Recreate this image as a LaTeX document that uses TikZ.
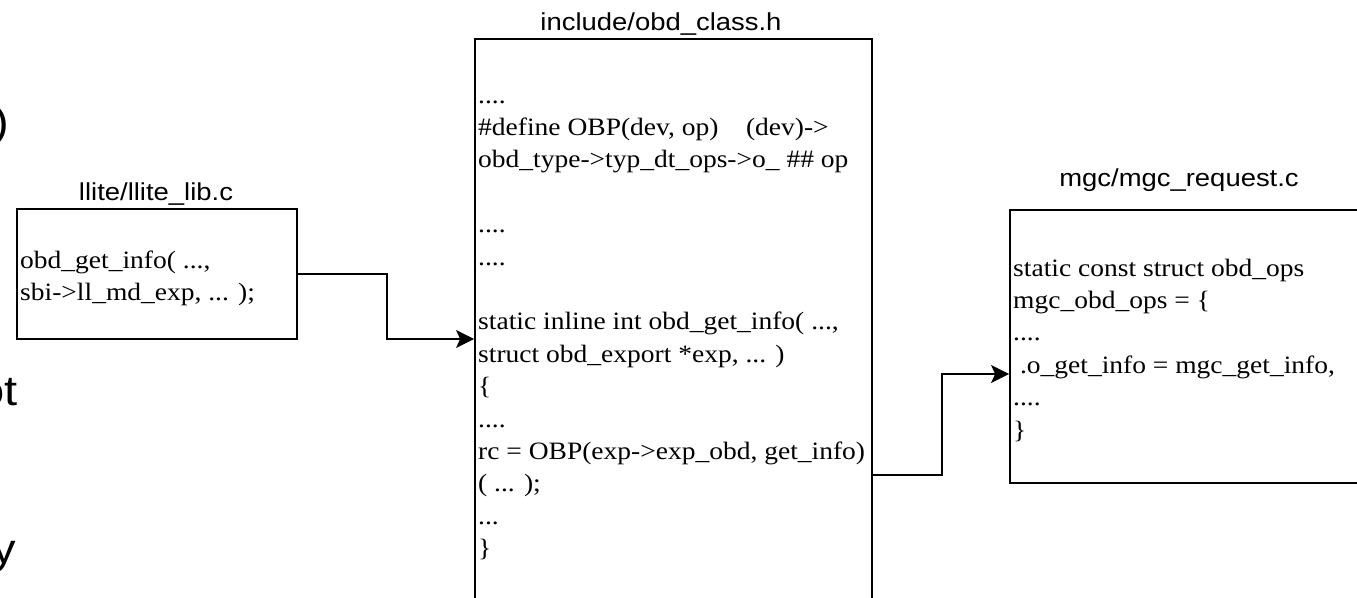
\documentclass[tikz,border=0pt]{standalone}
\usepackage{fontspec}
\usepackage{graphicx}
\setmainfont{Liberation Serif}
\setsansfont{Liberation Sans}
\usetikzlibrary{arrows.meta}

% code listings: Times-like, slightly widened
\newcommand\codelines[1]{\scalebox{1.1}[1]{\fontsize{25}{32.4}\selectfont\begin{tabular}[t]{@{}l@{}}#1\end{tabular}}}
% file-name captions: Arial-like
\newcommand\filecap[1]{\scalebox{1.12}[1]{\sffamily\fontsize{24.5}{29}\selectfont #1}}
\newcommand\bigfrag[1]{\scalebox{1.12}[1]{\sffamily\fontsize{42}{48}\selectfont #1}}

\tikzset{
  filebox/.style={draw=black, line width=1.8pt, fill=white, rectangle, inner sep=0pt},
  codenode/.style={inner sep=0pt, anchor=base west, text=black},
  capnode/.style={inner sep=0pt, anchor=base, text=black},
  fragnode/.style={inner sep=0pt, anchor=base east, text=black},
  conn/.style={draw=black, line width=1.8pt, -{Stealth[length=18pt, width=18pt, inset=4pt]}},
}

\begin{document}
\begin{tikzpicture}[x=1pt, y=-1pt]
\useasboundingbox (0,0) rectangle (1357,597);
\fill[white] (0,0) rectangle (1357,597);
\clip (0,0) rectangle (1357,597);

% pieces of larger lettering at the left margin
\node[fragnode] (fragA) at (9,136) {\bigfrag{)}};
\node[fragnode] (fragB) at (18,405) {\bigfrag{ot}};
\node[fragnode] (fragC) at (16,563) {\bigfrag{y}};

% the three source files
\node[filebox, minimum width=280pt, minimum height=130pt] (lib) at (157,274) {};
\node[filebox, minimum width=397pt, minimum height=571pt] (mid) at (673.5,324.5) {};
\node[filebox, minimum width=370pt, minimum height=273pt] (mgc) at (1195,346.5) {};

% captions
\node[capnode] (libCap) at (156,200) {\filecap{llite/llite\_lib.c}};
\node[capnode] (midCap) at (661,30) {\filecap{include/obd\_class.h}};
\node[capnode] (mgcCap) at (1179,186) {\filecap{mgc/mgc\_request.c}};

% contents
\node[codenode] (libCode) at (20,268) {\codelines{%
obd\_get\_info( ...,\\
sbi->ll\_md\_exp, ... );}};

\node[codenode] (midCode) at (478,103) {\codelines{%
....\\
\#define OBP(dev, op)\hspace{1em}(dev)->\\
obd\_type->typ\_dt\_ops->o\_ \#\# op\\
\\
....\\
....\\
\\
static inline int obd\_get\_info( ...,\\
struct obd\_export *exp, ... )\\
\{\\
....\\
rc = OBP(exp->exp\_obd, get\_info)\\
( ... );\\
...\\
\}}};

\node[codenode] (mgcCode) at (1013,276) {\codelines{%
static const struct obd\_ops\\
mgc\_obd\_ops = \{\\
....\\
\ .o\_get\_info = mgc\_get\_info,\\
....\\
\}}};

% call chain
\coordinate (midIn) at (mid.west |- 0,339);
\coordinate (midOut) at (mid.east |- 0,475);
\coordinate (mgcIn) at (mgc.west |- 0,374);
\draw[conn] (lib.east) -- ++(89,0) |- (midIn);
\draw[conn] (midOut) -- ++(69,0) |- (mgcIn);
\end{tikzpicture}
\end{document}
